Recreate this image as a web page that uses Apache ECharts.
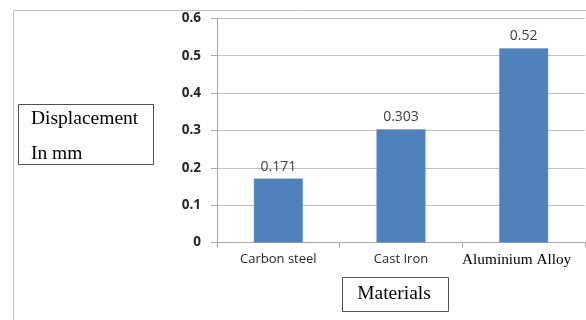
<!DOCTYPE html>
<html>
<head>
<meta charset="utf-8">
<script src="https://cdn.jsdelivr.net/npm/echarts@6/dist/echarts.min.js"></script>
<style>
  html, body { margin: 0; padding: 0; background: #ffffff; }
  #chart { width: 586px; height: 320px; }
</style>
</head>
<body>
<div id="chart"></div>
<script>
// Displacement of each material (mm)
const materials = ['Carbon steel', 'Cast Iron', 'Aluminium Alloy'];
const displacement = [0.171, 0.303, 0.52];
const yTicks = { min: 0, max: 0.6, step: 0.1 };
const yTitle = ['Displacement', 'In mm'];
const xTitle = 'Materials';

const sansFont = '"Open Sans", Lato, sans-serif';
const serifFont = '"Liberation Serif", "DejaVu Serif", serif';

const chart = echarts.init(document.getElementById('chart'), null, { renderer: 'canvas' });

chart.setOption({
  animation: false,
  backgroundColor: '#ffffff',
  grid: { left: 217, right: 1, top: 18.3, bottom: 77.5, containLabel: false },
  xAxis: {
    type: 'category',
    data: materials,
    axisLine: { show: true, lineStyle: { color: '#a6a6a6', width: 1 } },
    axisTick: { show: true, alignWithLabel: false, length: 5, lineStyle: { color: '#a6a6a6' } },
    axisLabel: {
      interval: 0,
      margin: 10,
      color: '#262626',
      fontSize: 13,
      fontFamily: sansFont,
      rich: {
        serif: { fontFamily: serifFont, fontSize: 15.3, color: '#000000', padding: [0, 14, 0, 0] }
      },
      formatter: function (v) {
        return v === 'Aluminium Alloy' ? '{serif|' + v + '}' : v;
      }
    }
  },
  yAxis: {
    type: 'value',
    min: yTicks.min,
    max: yTicks.max,
    interval: yTicks.step,
    axisLine: { show: true, lineStyle: { color: '#a6a6a6', width: 1 } },
    axisTick: { show: true, length: 6, lineStyle: { color: '#a6a6a6' } },
    splitLine: { show: true, lineStyle: { color: '#c0c0c0', width: 1 } },
    axisLabel: {
      margin: 16,
      color: '#262626',
      fontSize: 13.5,
      fontWeight: 'bold',
      fontFamily: sansFont,
      formatter: function (v) { return v === 0 ? '0' : v.toFixed(1); }
    }
  },
  series: [{
    type: 'bar',
    data: displacement,
    barWidth: '40%',
    itemStyle: { color: '#4f81bd', borderColor: '#6f97c8', borderWidth: 0.5 },
    label: {
      show: true,
      position: 'top',
      distance: 5,
      color: '#404040',
      fontSize: 14,
      fontFamily: sansFont,
      formatter: function (p) { return String(p.value); }
    }
  }],
  graphic: [
    {
      type: 'rect',
      silent: true,
      shape: { x: 13.5, y: 10.5, width: 700, height: 400 },
      style: { fill: 'none', stroke: '#bfbfbf', lineWidth: 1 }
    },
    {
      type: 'group',
      left: 18, top: 104,
      children: [
        {
          type: 'rect',
          shape: { x: 0.5, y: 0.5, width: 135, height: 60 },
          style: { fill: '#ffffff', stroke: '#505050', lineWidth: 1 }
        },
        {
          type: 'text',
          x: 13, y: 15,
          style: { text: yTitle[0], font: '19.5px ' + serifFont, fill: '#000000', verticalAlign: 'middle' }
        },
        {
          type: 'text',
          x: 13, y: 50,
          style: { text: yTitle[1], font: '19.5px ' + serifFont, fill: '#000000', verticalAlign: 'middle' }
        }
      ]
    },
    {
      type: 'group',
      left: 342, top: 277,
      children: [
        {
          type: 'rect',
          shape: { x: 0.5, y: 0.5, width: 106, height: 34 },
          style: { fill: '#ffffff', stroke: '#505050', lineWidth: 1 }
        },
        {
          type: 'text',
          x: 52, y: 17,
          style: { text: xTitle, font: '19.5px ' + serifFont, fill: '#000000', align: 'center', verticalAlign: 'middle' }
        }
      ]
    }
  ]
});
</script>
</body>
</html>
